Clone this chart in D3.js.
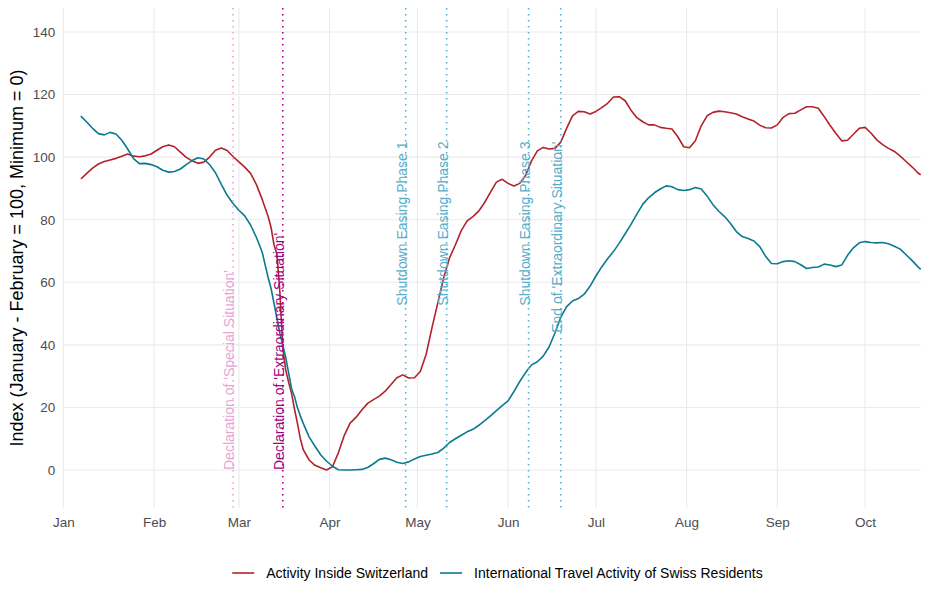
<!DOCTYPE html>
<html><head><meta charset="utf-8">
<script src="https://cdn.jsdelivr.net/npm/d3@7"></script>
<style>
html,body{margin:0;padding:0;background:#fff;}
text{font-family:"Liberation Sans",Arial,sans-serif;}
</style></head>
<body><svg id="chart" width="930" height="604"></svg>
<script>
// ---- data ----
const dates = [
 "01-07","01-09","01-11","01-13","01-15","01-17","01-19","01-21","01-23","01-25","01-27","01-29","01-31",
 "02-02","02-04","02-06","02-08","02-10","02-12","02-14","02-16","02-18","02-20","02-22","02-24","02-26","02-28",
 "03-01","03-03","03-05","03-07","03-09","03-11","03-12","03-13","03-14","03-15","03-16","03-17","03-18","03-19","03-20","03-21","03-22","03-23","03-25","03-27","03-29","03-31",
 "04-02","04-04","04-06","04-08","04-10","04-12","04-14","04-16","04-18","04-20","04-22","04-24","04-26","04-28","04-30",
 "05-02","05-04","05-06","05-08","05-10","05-12","05-14","05-16","05-18","05-20","05-22","05-24","05-26","05-28","05-30",
 "06-01","06-03","06-05","06-07","06-09","06-11","06-13","06-15","06-17","06-19","06-21","06-23","06-25","06-27","06-29",
 "07-01","07-03","07-05","07-07","07-09","07-11","07-13","07-15","07-17","07-19","07-21","07-23","07-25","07-27","07-29","07-31",
 "08-02","08-04","08-06","08-08","08-10","08-12","08-14","08-16","08-18","08-20","08-22","08-24","08-26","08-28","08-30",
 "09-01","09-03","09-05","09-07","09-09","09-11","09-13","09-15","09-17","09-19","09-21","09-23","09-25","09-27","09-29",
 "10-01","10-03","10-05","10-07","10-09","10-11","10-13","10-15","10-17","10-19","10-20"
];
const activityInside = [
 93.0,94.8,96.5,97.8,98.6,99.1,99.6,100.3,101.0,100.3,100.1,100.4,101.0,
 102.2,103.3,103.9,103.3,101.6,99.9,98.8,98.0,98.4,100.0,102.2,102.9,102.1,100.2,
 98.5,96.8,94.8,91.2,86.4,81.0,77.5,72.0,69.0,57.0,39.0,32.0,28.0,24.5,19.5,15.0,10.0,6.5,3.2,1.5,0.7,0.0,
 1.1,5.5,11.0,15.0,16.8,19.2,21.3,22.5,23.6,25.2,27.3,29.5,30.4,29.4,29.5,
 31.5,37.0,45.5,53.5,61.5,67.8,72.0,76.5,79.6,81.0,82.8,85.5,88.8,92.0,92.9,
 91.6,90.8,91.6,94.2,98.8,102.0,103.1,102.6,102.8,104.8,109.2,113.2,114.6,114.5,113.8,
 114.6,115.8,117.2,119.2,119.3,118.0,115.0,112.6,111.3,110.3,110.3,109.5,109.2,109.0,106.5,103.3,
 103.0,105.2,110.0,113.2,114.3,114.7,114.5,114.2,113.8,112.9,112.2,111.5,110.2,109.4,109.3,
 110.3,112.7,113.9,114.0,115.1,116.1,116.1,115.6,113.0,110.2,107.6,105.2,105.4,107.3,109.2,
 109.5,107.7,105.5,104.0,102.8,101.8,100.3,98.6,96.9,95.0,94.3
];
const internationalTravel = [
 113.1,111.2,109.2,107.5,107.1,107.9,107.4,105.4,102.6,99.5,97.9,98.0,97.6,
 96.9,95.8,95.2,95.4,96.2,97.6,98.9,99.8,99.4,97.6,95.0,91.3,87.8,85.2,
 83.0,81.2,78.3,74.3,69.5,61.5,58.0,53.3,48.5,43.7,40.0,36.0,31.0,26.0,23.5,20.0,17.3,14.9,10.6,7.6,4.8,2.8,
 1.2,0.1,0.0,0.0,0.1,0.2,0.8,2.0,3.4,3.8,3.3,2.5,2.1,2.6,3.5,
 4.3,4.7,5.1,5.6,7.0,8.8,10.0,11.1,12.2,13.0,14.3,15.8,17.3,19.0,20.6,
 22.1,25.1,28.3,31.2,33.6,34.6,36.4,39.3,43.8,48.8,52.2,54.0,54.8,56.2,58.7,
 62.0,64.9,67.5,69.8,72.5,75.5,78.5,81.8,84.9,87.0,88.6,89.8,90.8,90.5,89.6,89.3,
 89.6,90.3,89.8,87.6,84.8,82.7,81.0,78.8,76.2,74.6,74.0,73.2,71.4,68.3,66.0,
 65.9,66.6,66.9,66.6,65.6,64.4,64.7,64.9,65.8,65.5,65.0,65.5,68.6,71.0,72.6,
 73.0,72.7,72.6,72.7,72.3,71.5,70.6,68.8,67.0,65.0,64.1
];
const seriesNames = ["Activity Inside Switzerland","International Travel Activity of Swiss Residents"];
const eventDates = ["2020-02-28","2020-03-16","2020-04-27","2020-05-11","2020-06-08","2020-06-19"];
const eventLabels = ["Declaration of 'Special Situation'","Declaration of 'Extraordinary Situation'",
  "Shutdown Easing Phase 1","Shutdown Easing Phase 2","Shutdown Easing Phase 3","End of 'Extraordinary Situation'"];
const yTicks = [0,20,40,60,80,100,120,140];
const xTickDates = ["2020-01-01","2020-02-01","2020-03-01","2020-04-01","2020-05-01","2020-06-01","2020-07-01","2020-08-01","2020-09-01","2020-10-01"];
const xTickLabels = ["Jan","Feb","Mar","Apr","May","Jun","Jul","Aug","Sep","Oct"];

// ---- styles ----
const seriesColors = ["#B2222A","#0A7A8E"];
const eventColors = ["#E8A6D2","#A3047F","#5AAECB","#5AAECB","#5AAECB","#5AAECB"];
const eventAnchor = ["start","start","end","end","end","end"];
const eventLabelY = [0,0,105,105,105,105];

const parse = d3.utcParse("%Y-%m-%d");
const svg = d3.select("#chart");
const L = 63.3, R = 920.7, T = 8, B = 508;
const x = d3.scaleUtc().domain([parse("2020-01-01"), parse("2020-10-20")]).range([L, R]);
const y = d3.scaleLinear().domain([-12.14, 147.65]).range([B, T]);

// grid
const grid = svg.append("g");
grid.selectAll("line.h").data(yTicks).join("line")
  .attr("x1", L).attr("x2", R).attr("y1", d => y(d)).attr("y2", d => y(d))
  .attr("stroke", "#EBEBEB").attr("stroke-width", 1.1);
grid.selectAll("line.v").data(xTickDates).join("line")
  .attr("x1", d => x(parse(d))).attr("x2", d => x(parse(d))).attr("y1", T).attr("y2", B)
  .attr("stroke", "#EBEBEB").attr("stroke-width", 1.1);

// axes
const yAxis = d3.axisLeft(y).tickValues(yTicks).tickSize(0).tickPadding(8);
const gy = svg.append("g").attr("transform", `translate(${L},0)`).call(yAxis);
gy.select(".domain").remove();
gy.selectAll("text").attr("font-size", "13.5px").attr("fill", "#4D4D4D")
  .attr("font-family", "Liberation Sans, Arial, sans-serif");

const xAxis = d3.axisBottom(x).tickValues(xTickDates.map(parse))
  .tickFormat((d, i) => xTickLabels[i]).tickSize(0).tickPadding(9);
const gx = svg.append("g").attr("transform", `translate(0,${B})`).call(xAxis);
gx.select(".domain").remove();
gx.selectAll("text").attr("font-size", "13.5px").attr("fill", "#4D4D4D")
  .attr("font-family", "Liberation Sans, Arial, sans-serif");

// y title
svg.append("text").attr("transform", `translate(23,${(T + B) / 2}) rotate(-90)`)
  .attr("text-anchor", "middle").attr("font-size", "18px").attr("fill", "#000")
  .text("Index (January - February = 100, Minimum = 0)");

// series
const seriesData = [activityInside, internationalTravel];
const line = d3.line().x(d => x(d.date)).y(d => y(d.v)).curve(d3.curveLinear);
seriesData.forEach((vals, si) => {
  const pts = dates.map((d, i) => ({ date: parse("2020-" + d), v: vals[i] }));
  svg.append("path").datum(pts).attr("d", line).attr("fill", "none")
    .attr("stroke", seriesColors[si]).attr("stroke-width", 1.6).attr("stroke-linejoin", "round");
});

// event lines + labels
const ev = svg.append("g");
eventDates.forEach((d, i) => {
  const xx = x(parse(d));
  ev.append("line").attr("x1", xx).attr("x2", xx).attr("y1", T).attr("y2", B)
    .attr("stroke", eventColors[i]).attr("stroke-width", 1.6).attr("stroke-dasharray", "1.6,4.4");
  ev.append("text").attr("transform", `translate(${xx + 1},${y(eventLabelY[i])}) rotate(-90)`)
    .attr("text-anchor", eventAnchor[i]).attr("font-size", "14px").attr("fill", eventColors[i])
    .text(eventLabels[i]);
});

// legend
const lg = svg.append("g");
const items = seriesNames.map((n, i) => {
  const t = lg.append("text").attr("font-size", "14px").attr("fill", "#000").attr("y", 578).text(n);
  return { t, w: t.node().getComputedTextLength(), i };
});
const keyW = 22, keyGap = 12, itemGap = 12;
const total = items.reduce((s, it) => s + keyW + keyGap + it.w, 0) + itemGap * (items.length - 1);
let cx = 497.5 - total / 2;
items.forEach(it => {
  lg.append("line").attr("x1", cx).attr("x2", cx + keyW).attr("y1", 573).attr("y2", 573)
    .attr("stroke", seriesColors[it.i]).attr("stroke-width", 1.6);
  it.t.attr("x", cx + keyW + keyGap);
  cx += keyW + keyGap + it.w + itemGap;
});
</script></body></html>
